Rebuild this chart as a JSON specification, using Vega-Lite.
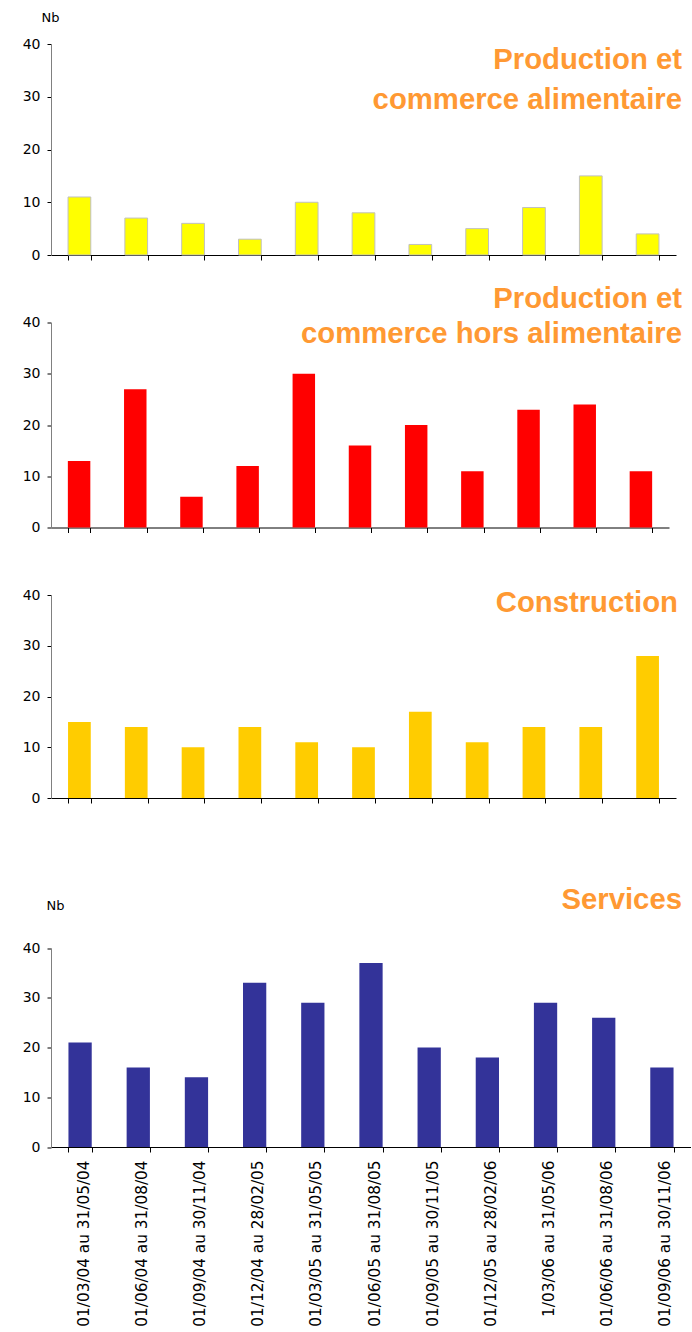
{
  "$schema": "https://vega.github.io/schema/vega-lite/v6.json",
  "padding": {"left": 22, "top": 11, "right": 0, "bottom": 0},
  "datasets": {
    "alim": [
      {"periode": "01/03/04 au 31/05/04", "nb": 11},
      {"periode": "01/06/04 au 31/08/04", "nb": 7},
      {"periode": "01/09/04 au 30/11/04", "nb": 6},
      {"periode": "01/12/04 au 28/02/05", "nb": 3},
      {"periode": "01/03/05 au 31/05/05", "nb": 10},
      {"periode": "01/06/05 au 31/08/05", "nb": 8},
      {"periode": "01/09/05 au 30/11/05", "nb": 2},
      {"periode": "01/12/05 au 28/02/06", "nb": 5},
      {"periode": "1/03/06 au 31/05/06", "nb": 9},
      {"periode": "01/06/06 au 31/08/06", "nb": 15},
      {"periode": "01/09/06 au 30/11/06", "nb": 4}
    ],
    "horsalim": [
      {"periode": "01/03/04 au 31/05/04", "nb": 13},
      {"periode": "01/06/04 au 31/08/04", "nb": 27},
      {"periode": "01/09/04 au 30/11/04", "nb": 6},
      {"periode": "01/12/04 au 28/02/05", "nb": 12},
      {"periode": "01/03/05 au 31/05/05", "nb": 30},
      {"periode": "01/06/05 au 31/08/05", "nb": 16},
      {"periode": "01/09/05 au 30/11/05", "nb": 20},
      {"periode": "01/12/05 au 28/02/06", "nb": 11},
      {"periode": "1/03/06 au 31/05/06", "nb": 23},
      {"periode": "01/06/06 au 31/08/06", "nb": 24},
      {"periode": "01/09/06 au 30/11/06", "nb": 11}
    ],
    "construction": [
      {"periode": "01/03/04 au 31/05/04", "nb": 15},
      {"periode": "01/06/04 au 31/08/04", "nb": 14},
      {"periode": "01/09/04 au 30/11/04", "nb": 10},
      {"periode": "01/12/04 au 28/02/05", "nb": 14},
      {"periode": "01/03/05 au 31/05/05", "nb": 11},
      {"periode": "01/06/05 au 31/08/05", "nb": 10},
      {"periode": "01/09/05 au 30/11/05", "nb": 17},
      {"periode": "01/12/05 au 28/02/06", "nb": 11},
      {"periode": "1/03/06 au 31/05/06", "nb": 14},
      {"periode": "01/06/06 au 31/08/06", "nb": 14},
      {"periode": "01/09/06 au 30/11/06", "nb": 28}
    ],
    "services": [
      {"periode": "01/03/04 au 31/05/04", "nb": 21},
      {"periode": "01/06/04 au 31/08/04", "nb": 16},
      {"periode": "01/09/04 au 30/11/04", "nb": 14},
      {"periode": "01/12/04 au 28/02/05", "nb": 33},
      {"periode": "01/03/05 au 31/05/05", "nb": 29},
      {"periode": "01/06/05 au 31/08/05", "nb": 37},
      {"periode": "01/09/05 au 30/11/05", "nb": 20},
      {"periode": "01/12/05 au 28/02/06", "nb": 18},
      {"periode": "1/03/06 au 31/05/06", "nb": 29},
      {"periode": "01/06/06 au 31/08/06", "nb": 26},
      {"periode": "01/09/06 au 30/11/06", "nb": 16}
    ]
  },
  "bounds": "flush",
  "spacing": 67.5,
  "vconcat": [
    {
      "data": {"name": "alim"},
      "width": 625,
      "height": 211,
      "title": {"text": ["Production et", "commerce alimentaire"], "lineHeight": 40, "dx": 6, "offset": -104},
      "mark": {"type": "bar", "color": "#FFFF00", "stroke": "#C0C0C0", "strokeWidth": 1},
      "encoding": {
        "x": {"field": "periode", "type": "nominal", "sort": null, "scale": {"paddingInner": 0.6, "paddingOuter": 0.3}, "axis": {"labels": false, "title": null}},
        "y": {"field": "nb", "type": "quantitative", "scale": {"domain": [0, 40], "nice": false}, "axis": {"values": [0, 10, 20, 30, 40], "title": "Nb", "titleAngle": 0, "titleAlign": "left", "titleBaseline": "alphabetic", "titleX": -10, "titleY": -23}}
      }
    },
    {
      "data": {"name": "horsalim"},
      "width": 618,
      "height": 205,
      "title": {"text": ["Production et", "commerce hors alimentaire"], "lineHeight": 35, "dx": 13, "offset": -34},
      "mark": {"type": "bar", "color": "#FF0000"},
      "encoding": {
        "x": {"field": "periode", "type": "nominal", "sort": null, "scale": {"paddingInner": 0.6, "paddingOuter": 0.3}, "axis": {"labels": false, "title": null}},
        "y": {"field": "nb", "type": "quantitative", "scale": {"domain": [0, 40], "nice": false}, "axis": {"values": [0, 10, 20, 30, 40], "title": null}}
      }
    },
    {
      "data": {"name": "construction"},
      "width": 625,
      "height": 203,
      "title": {"text": "Construction", "dx": 2, "offset": -30},
      "mark": {"type": "bar", "color": "#FFCC00"},
      "encoding": {
        "x": {"field": "periode", "type": "nominal", "sort": null, "scale": {"paddingInner": 0.6, "paddingOuter": 0.3}, "axis": {"labels": false, "title": null}},
        "y": {"field": "nb", "type": "quantitative", "scale": {"domain": [0, 40], "nice": false}, "axis": {"values": [0, 10, 20, 30, 40], "title": null}}
      }
    },
    {
      "data": {"name": "services"},
      "width": 640,
      "height": 281.5,
      "title": {"text": "Services", "dx": -9, "offset": -50},
      "mark": {"type": "bar", "color": "#333399"},
      "encoding": {
        "x": {"field": "periode", "type": "nominal", "sort": null, "scale": {"paddingInner": 0.6, "paddingOuter": 0.3}, "axis": {"title": null, "labelAngle": -90, "labelFontSize": 15.3, "labelPadding": 8, "labelOffset": 3}},
        "y": {"field": "nb", "type": "quantitative", "scale": {"domain": [0, 40], "nice": false, "range": [281.5, 82.5]}, "axis": {"values": [0, 10, 20, 30, 40], "title": "Nb", "titleAngle": 0, "titleAlign": "left", "titleBaseline": "alphabetic", "titleX": -5, "titleY": 43.5}}
      }
    }
  ],
  "config": {
    "view": {"stroke": null},
    "font": "Liberation Sans",
    "axis": {"grid": false, "labelFont": "DejaVu Sans", "labelFontSize": 14, "labelColor": "#000000", "tickColor": "#000000", "titleFont": "DejaVu Sans", "titleFontWeight": "normal", "titleFontSize": 13, "titleColor": "#000000"},
    "axisY": {"domainColor": "#808080", "tickSize": 4, "labelPadding": 7},
    "axisX": {"domainColor": "#000000", "tickSize": 5, "tickBand": "extent"},
    "title": {"anchor": "end", "frame": "group", "orient": "top", "font": "Liberation Sans", "fontSize": 29.3, "fontWeight": "bold", "color": "#FF9933", "baseline": "alphabetic"}
  }
}
